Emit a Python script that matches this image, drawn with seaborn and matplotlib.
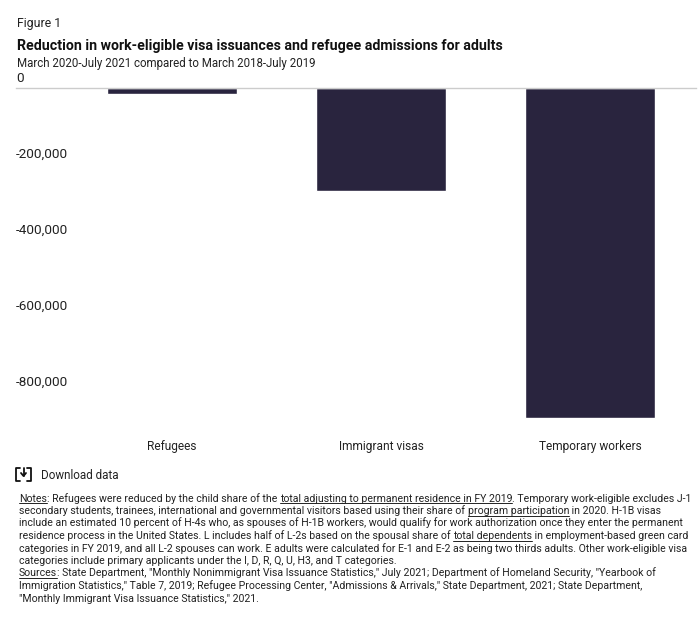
import matplotlib
matplotlib.use('Agg')
import matplotlib.pyplot as plt
import seaborn as sns
from matplotlib.lines import Line2D

sns.set_style('white')
plt.rcParams['font.family'] = ['Roboto', 'DejaVu Sans']

categories = ['Refugees', 'Immigrant visas', 'Temporary workers']
reductions = [-15000, -270000, -868000]
y_ticks = [0, -200000, -400000, -600000, -800000]
y_labels = ['0', '-200,000', '-400,000', '-600,000', '-800,000']

title = 'Reduction in work-eligible visa issuances and refugee admissions for adults'
subtitle = 'March 2020-July 2021 compared to March 2018-July 2019'

# each line of the notes is a list of (text, underlined) runs
notes = [
    [('Notes', True), (': Refugees were reduced by the child share of the ', False),
     ('total adjusting to permanent residence in FY 2019', True),
     ('. Temporary work-eligible excludes J-1', False)],
    [('secondary students, trainees, international and governmental visitors based using their share of ', False),
     ('program participation', True), (' in 2020. H-1B visas', False)],
    [('include an estimated 10 percent of H-4s who, as spouses of H-1B workers, would qualify for work authorization once they enter the permanent', False)],
    [('residence process in the United States. L includes half of L-2s based on the spousal share of ', False),
     ('total dependents', True), (' in employment-based green card', False)],
    [('categories in FY 2019, and all L-2 spouses can work. E adults were calculated for E-1 and E-2 as being two thirds adults. Other work-eligible visa', False)],
    [('categories include primary applicants under the I, D, R, Q, U, H3, and T categories.', False)],
    [('Sources', True), (': State Department, "Monthly Nonimmigrant Visa Issuance Statistics," July 2021; Department of Homeland Security, "Yearbook of', False)],
    [('Immigration Statistics," Table 7, 2019; Refugee Processing Center, "Admissions & Arrivals," State Department, 2021; State Department,', False)],
    [('"Monthly Immigrant Visa Issuance Statistics," 2021.', False)],
]

W, H = 700, 624
TEXT = '#222222'


def fx(px):
    return px / W


def fy(px):
    return 1 - px / H


def draw_runs(fig, runs, x, y, size):
    # write the runs one after another on a baseline, underlining the linked ones
    renderer = fig.canvas.get_renderer()
    for text, under in runs:
        t = fig.text(fx(x), fy(y), text, fontsize=size, color=TEXT, va='baseline', ha='left')
        width = t.get_window_extent(renderer).width
        if under:
            fig.add_artist(Line2D([fx(x), fx(x + width)], [fy(y + 1.7)] * 2, color=TEXT, lw=0.7))
        x += width


fig = plt.figure(figsize=(7, 6.24), dpi=100)
ax = fig.add_axes([fx(16), fy(430), fx(680), fy(88) - fy(430)])

sns.barplot(x=categories, y=reductions, color='#29243e', width=0.62, saturation=1, ax=ax)
ax.set_xlim(-0.7475, 2.5065)
ax.set_ylim(-900000, 0)

sns.despine(ax=ax, left=True, bottom=True, right=True, top=False)
ax.spines['top'].set_color('#cccccc')
ax.spines['top'].set_linewidth(1)
ax.xaxis.tick_bottom()
ax.tick_params(axis='x', length=0, pad=7, labelsize=8.6, labelcolor=TEXT)
ax.set_yticks([])
ax.set_zorder(1)

for value, label in zip(y_ticks, y_labels):
    ax.annotate(label, xy=(0, value), xycoords=ax.get_yaxis_transform(), xytext=(0, 3),
                textcoords='offset pixels', fontsize=9.7, color=TEXT, ha='left', va='bottom',
                annotation_clip=False)

fig.text(fx(17), fy(27), 'Figure 1', fontsize=8.8, color=TEXT, va='baseline')
fig.text(fx(17), fy(50), title, fontsize=10.2, fontweight='bold', color='#111111', va='baseline')
fig.text(fx(17), fy(67), subtitle, fontsize=8.3, color=TEXT, va='baseline')

# download icon
icon = [([20, 16, 16, 20], [468, 468, 481, 481]), ([27, 31, 31, 27], [468, 468, 481, 481]),
        ([23.5, 23.5], [468, 476]), ([21, 23.5, 26], [473, 476, 473])]
for xs, ys in icon:
    fig.add_artist(Line2D([fx(v) for v in xs], [fy(v) for v in ys], color='#111111', lw=1.3))
fig.text(fx(41), fy(479), 'Download data', fontsize=8.4, color=TEXT, va='baseline')

for i, runs in enumerate(notes):
    draw_runs(fig, runs, 19, 501.5 + i * 12.5, 7.6)

fig.savefig('out.png', dpi=100)
